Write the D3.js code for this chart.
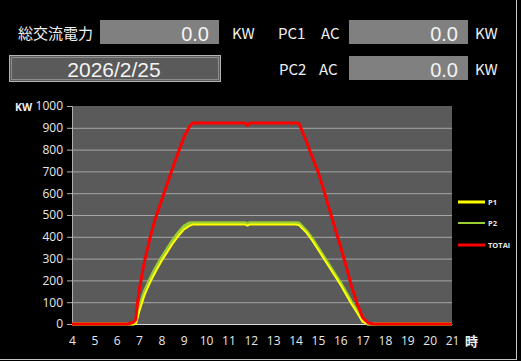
<!DOCTYPE html>
<html>
<head>
<meta charset="utf-8">
<script src="https://cdn.jsdelivr.net/npm/d3@7"></script>
<style>
  html, body { margin: 0; padding: 0; background: #000; }
  svg { display: block; }
</style>
</head>
<body>
<svg id="chart" width="521" height="361"></svg>
<script>
var width = 521, height = 361;

// time of day (hours)
var hours = [4, 6.5, 6.75, 6.85, 7, 7.25, 7.5, 7.75, 8, 8.25, 8.5, 8.75, 9, 9.25, 9.4, 10, 11, 11.75, 11.85, 11.95, 13, 14, 14.15, 14.5, 14.75, 15, 15.25, 15.5, 15.75, 16, 16.25, 16.5, 16.75, 17, 17.25, 17.5, 21];
var p1 = [0, 0, 0, 0, 55, 135, 192, 242, 288, 328, 368, 403, 433, 450, 456, 456, 456, 456, 451, 456, 456, 456, 454, 418, 383, 343, 303, 263, 223, 183, 138, 93, 53, 10, 0, 0, 0];
var p2 = [0, 0, 0, 5, 75, 150, 208, 258, 302, 342, 382, 417, 447, 462, 464, 464, 464, 464, 460, 464, 464, 464, 462, 425, 390, 350, 310, 270, 230, 190, 145, 100, 60, 18, 0, 0, 0];
var total = [0, 0, 8, 20, 155, 290, 400, 490, 565, 640, 715, 785, 855, 905, 922, 922, 922, 922, 910, 922, 922, 922, 920, 835, 765, 700, 620, 530, 445, 360, 270, 175, 95, 30, 5, 0, 0];

var yTicks = [0, 100, 200, 300, 400, 500, 600, 700, 800, 900, 1000];
var xTicks = d3.range(4, 22);

var seriesNames = ['P1', 'P2', 'TOTAl'];
var seriesColors = ['#ffff00', '#9acd32', '#ff0000'];
var seriesWidths = [2, 3.4, 3];

var svg = d3.select('#chart');

// outer frame
svg.append('line').attr('x1', 0).attr('x2', 517).attr('y1', 359.5).attr('y2', 359.5)
  .attr('stroke', '#c8c8c8').attr('stroke-width', 1);
svg.append('line').attr('x1', 516.5).attr('x2', 516.5).attr('y1', 0).attr('y2', 360)
  .attr('stroke', '#c8c8c8').attr('stroke-width', 1);

// header panel
var jp = '"Noto Sans CJK JP", "Noto Sans", sans-serif';
function label(x, y, t, size) {
  svg.append('text').attr('x', x).attr('y', y).text(t)
    .attr('fill', '#f0f0f0').attr('font-family', jp).attr('font-size', size || 15);
}
function valueBox(x, y, w, h, v) {
  svg.append('rect').attr('x', x).attr('y', y).attr('width', w).attr('height', h).attr('fill', '#808080');
  svg.append('text').attr('x', x + w - 10).attr('y', y + h - 3).text(v)
    .attr('text-anchor', 'end').attr('fill', '#f4f4f4')
    .attr('font-family', '"Liberation Sans", sans-serif').attr('font-size', 20);
}

label(18, 39, '総交流電力');
valueBox(100, 20, 119, 24, '0.0');
label(232, 39, 'KW');
label(278, 39, 'PC1');
label(321, 39, 'AC');
valueBox(349, 20, 119, 24, '0.0');
label(475, 39, 'KW');

label(279, 75, 'PC2');
label(319, 75, 'AC');
valueBox(349, 56, 119, 24, '0.0');
label(475, 75, 'KW');

// date box (double border)
svg.append('rect').attr('x', 9.5).attr('y', 55.5).attr('width', 211).attr('height', 26)
  .attr('fill', '#5a5a5a').attr('stroke', '#b4b4b4');
svg.append('rect').attr('x', 11.5).attr('y', 57.5).attr('width', 207).attr('height', 22)
  .attr('fill', 'none').attr('stroke', '#8c8c8c');
svg.append('text').attr('x', 114).attr('y', 77).text('2026/2/25')
  .attr('text-anchor', 'middle').attr('fill', '#f4f4f4')
  .attr('font-family', '"Liberation Sans", sans-serif').attr('font-size', 21);

// chart
var x = d3.scaleLinear().domain([4, 21]).range([72, 452]);
var y = d3.scaleLinear().domain([0, 1000]).range([324, 106]);

svg.append('rect').attr('x', x(4)).attr('y', y(1000))
  .attr('width', x(21) - x(4)).attr('height', y(0) - y(1000)).attr('fill', '#5a5a5a');

var grid = svg.append('g').attr('transform', 'translate(' + x(4) + ',0)')
  .call(d3.axisLeft(y).tickValues(yTicks.slice(1, -1)).tickSize(-(x(21) - x(4))).tickFormat(''));
grid.select('.domain').remove();
grid.selectAll('line').attr('stroke', '#a6a6a6');

var yAxis = svg.append('g').attr('transform', 'translate(' + x(4) + ',0)')
  .call(d3.axisLeft(y).tickValues(yTicks).tickSize(5).tickPadding(4).tickFormat(d3.format('d')));
yAxis.select('.domain').attr('stroke', '#b0b0b0');
yAxis.selectAll('line').attr('stroke', '#b0b0b0');
yAxis.selectAll('text').attr('fill', '#e8e8e8')
  .attr('font-family', '"Open Sans", sans-serif').attr('font-size', 12);

var xAxis = svg.append('g').attr('transform', 'translate(0,' + y(0) + ')')
  .call(d3.axisBottom(x).tickValues(xTicks).tickSize(0).tickPadding(12).tickFormat(d3.format('d')));
xAxis.select('.domain').attr('stroke', '#d8d8d8');
xAxis.selectAll('text').attr('fill', '#e8e8e8')
  .attr('font-family', '"Open Sans", sans-serif').attr('font-size', 12);

svg.append('text').attr('x', 15).attr('y', 111).text('KW')
  .attr('fill', '#f0f0f0').attr('font-weight', 'bold')
  .attr('font-family', '"Open Sans", sans-serif').attr('font-size', 10.5);
svg.append('text').attr('x', 465).attr('y', 346).text('時')
  .attr('fill', '#f0f0f0').attr('font-weight', 'bold')
  .attr('font-family', jp).attr('font-size', 13);

// series
var series = [p1, p2, total];
var line = d3.line()
  .x(function (d, i) { return x(hours[i]); })
  .y(function (d) { return y(d); });

var order = [1, 0, 2];
order.forEach(function (k) {
  svg.append('path').datum(series[k])
    .attr('d', line)
    .attr('fill', 'none')
    .attr('stroke', seriesColors[k])
    .attr('stroke-width', seriesWidths[k])
    .attr('stroke-linejoin', 'round');
});

// legend
var legendY = [202, 223, 245];
seriesNames.forEach(function (name, i) {
  svg.append('line').attr('x1', 458).attr('x2', 485)
    .attr('y1', legendY[i]).attr('y2', legendY[i])
    .attr('stroke', seriesColors[i]).attr('stroke-width', i === 1 ? 2 : 3);
  svg.append('text').attr('x', 488).attr('y', legendY[i] + 3).text(name)
    .attr('fill', '#e8e8e8').attr('font-family', '"Open Sans", sans-serif')
    .attr('font-size', 7.5).attr('font-weight', 'bold');
});
</script>
</body>
</html>
